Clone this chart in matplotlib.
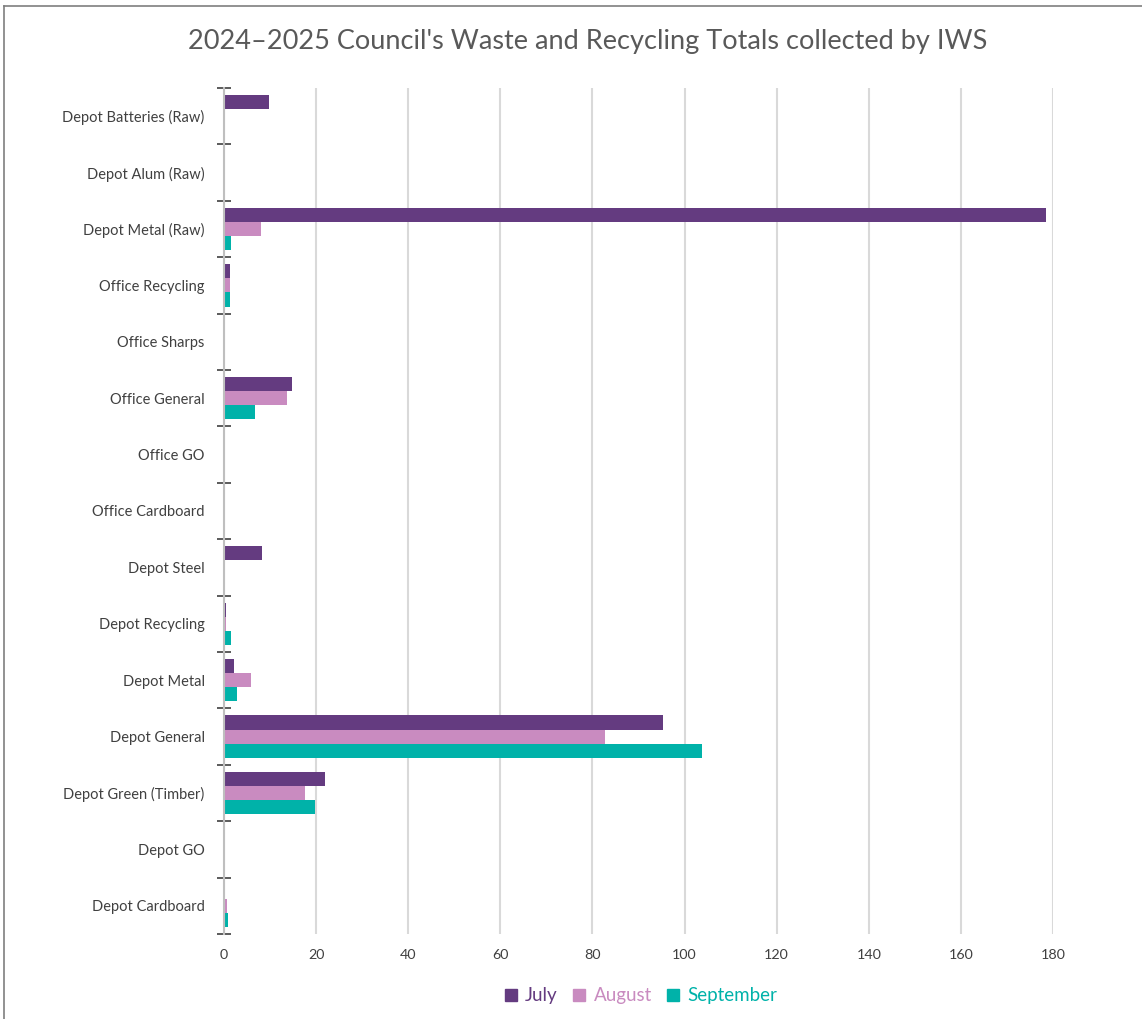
import matplotlib
matplotlib.use("Agg")
import matplotlib.pyplot as plt
import numpy as np
from matplotlib.lines import Line2D

categories = ["Depot Batteries (Raw)", "Depot Alum (Raw)", "Depot Metal (Raw)",
              "Office Recycling", "Office Sharps", "Office General", "Office GO",
              "Office Cardboard", "Depot Steel", "Depot Recycling", "Depot Metal",
              "Depot General", "Depot Green (Timber)", "Depot GO", "Depot Cardboard"]
july = [9.8, 0, 178.5, 1.4, 0, 14.8, 0, 0, 8.2, 0.4, 2.2, 95.4, 21.9, 0, 0.2]
august = [0, 0, 8.0, 1.4, 0, 13.7, 0, 0, 0, 0.5, 5.8, 82.7, 17.6, 0, 0.6]
september = [0, 0, 1.5, 1.2, 0, 6.7, 0, 0, 0, 1.6, 2.9, 103.7, 19.8, 0, 0.9]
series_names = ["July", "August", "September"]
colors = ["#643B80", "#C98BC0", "#00B2A9"]
xticks = [0, 20, 40, 60, 80, 100, 120, 140, 160, 180]
title = "2024\u20132025 Council's Waste and Recycling Totals collected by IWS"

plt.rcParams['font.family'] = ['Lato', 'DejaVu Sans']

W, H = 1142, 1019
fig = plt.figure(figsize=(W / 100, H / 100), dpi=100)
ax = fig.add_axes([224 / W, 1 - 934 / H, (1053 - 224) / W, (934 - 88) / H])

n = len(categories)
y = np.arange(n)
bh = 0.25
for i, (vals, c) in enumerate(zip([july, august, september], colors)):
    ax.barh(y + (i - 1) * bh, vals, height=bh, color=c, zorder=3)

ax.set_ylim(n - 0.5, -0.5)
ax.set_xlim(0, 180)
ax.set_xticks(xticks)
ax.set_xticklabels([str(t) for t in xticks], fontsize=10.3, color="#404040")
ax.tick_params(axis="x", length=0, pad=11)
ax.xaxis.grid(True, color="#D9D9D9", linewidth=1.5, zorder=0)
ax.set_axisbelow(True)

ax.set_yticks(y)
ax.set_yticklabels(categories, fontsize=10.5, color="#404040")
ax.tick_params(axis="y", which="major", length=0, pad=14)
ax.set_yticks(np.arange(n + 1) - 0.5, minor=True)
ax.tick_params(axis="y", which="minor", length=10, width=1.2, color="#404040",
               direction="inout")

for s in ["top", "right", "bottom"]:
    ax.spines[s].set_visible(False)
ax.spines["left"].set_color("#BFBFBF")
ax.spines["left"].set_linewidth(1.5)
ax.spines["left"].set_zorder(4)

fig.text(588 / W, 1 - 42 / H, title, ha="center", va="center",
         fontsize=19.5, color="#595959")

handles = [Line2D([], [], marker="s", linestyle="none", markersize=8.5,
                  markerfacecolor=c, markeredgecolor=c) for c in colors]
leg = fig.legend(handles, series_names, loc="center", bbox_to_anchor=(640 / W, 1 - 996 / H),
                 ncol=3, frameon=False, fontsize=13.5, handletextpad=0.3,
                 columnspacing=0.7, handlelength=0.9)
for t, c in zip(leg.get_texts(), colors):
    t.set_color(c)

# outer frame (top and left edges visible)
fig.add_artist(Line2D([4 / W, 4 / W], [0, 1 - 6 / H], transform=fig.transFigure,
                      color="#7F7F7F", linewidth=1.2))
fig.add_artist(Line2D([4 / W, 1], [1 - 6 / H, 1 - 6 / H], transform=fig.transFigure,
                      color="#7F7F7F", linewidth=1.2))

fig.savefig("out.png", dpi=100, facecolor="white")
